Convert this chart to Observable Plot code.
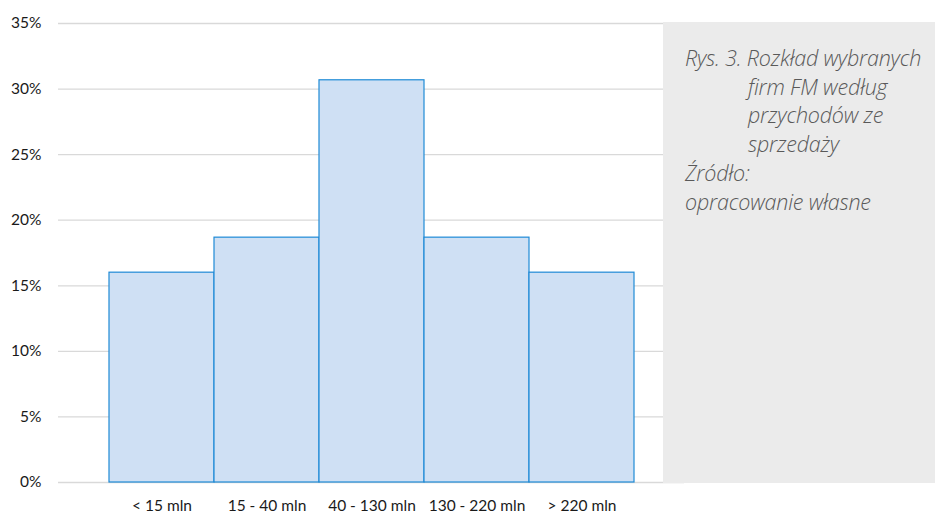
<!DOCTYPE html>
<html>
<head>
<meta charset="utf-8">
<script src="https://cdn.jsdelivr.net/npm/d3@7"></script>
<script src="https://cdn.jsdelivr.net/npm/@observablehq/plot@0.6"></script>
<style>
  html, body { margin: 0; padding: 0; background: #fff; }
  #wrap { position: relative; width: 937px; height: 514px; overflow: hidden; }
  #box { position: absolute; left: 663px; top: 22px; width: 272px; height: 461px; background: #ebebeb; }
  #cap { position: absolute; left: 685px; top: 44px; font-family: "Open Sans", Lato, sans-serif; font-style: italic; font-weight: 300; font-size: 21.5px; line-height: 28.7px; color: #595959; letter-spacing: -0.2px; white-space: nowrap; }
  #cap .ind { padding-left: 63px; }
</style>
</head>
<body>
<div id="wrap">
  <div id="chart"></div>
  <div id="box"></div>
  <div id="cap">
    <div>Rys. 3. Rozkład wybranych</div>
    <div class="ind">firm FM według</div>
    <div class="ind">przychodów ze</div>
    <div class="ind">sprzedaży</div>
    <div>Źródło:</div>
    <div>opracowanie własne</div>
  </div>
</div>
<script>
const categories = ["< 15 mln", "15 - 40 mln", "40 - 130 mln", "130 - 220 mln", "> 220 mln"];
const shares = [0.16, 0.1867, 0.3067, 0.1867, 0.16];
const yTicks = [0, 0.05, 0.10, 0.15, 0.20, 0.25, 0.30, 0.35];

const data = categories.map((c, i) => ({category: c, share: shares[i]}));

const chart = Plot.plot({
  width: 937,
  height: 514,
  marginLeft: 58,
  marginRight: 253,
  marginTop: 23,
  marginBottom: 32,
  style: {fontFamily: "Lato, 'Open Sans', sans-serif", fontSize: "15px", color: "#1a1a1a", background: "transparent"},
  x: {domain: categories, paddingInner: 0, paddingOuter: 0.475, label: null},
  y: {domain: [0, 0.35], label: null},
  marks: [
    Plot.gridY(yTicks, {stroke: "#d9d9d9", strokeOpacity: 1, strokeWidth: 1.3}),
    Plot.barY(data, {x: "category", y: "share", fill: "#cfe0f4", stroke: "#1e8ad6", strokeWidth: 1.2, inset: 0}),
    Plot.axisY(yTicks, {tickSize: 0, tickPadding: 17, tickFormat: d => Math.round(d * 100) + "%", fontSize: 15.5}),
    Plot.axisX({tickSize: 0, tickPadding: 17, fontSize: 15.5})
  ]
});
document.getElementById("chart").appendChild(chart);
</script>
</body>
</html>
